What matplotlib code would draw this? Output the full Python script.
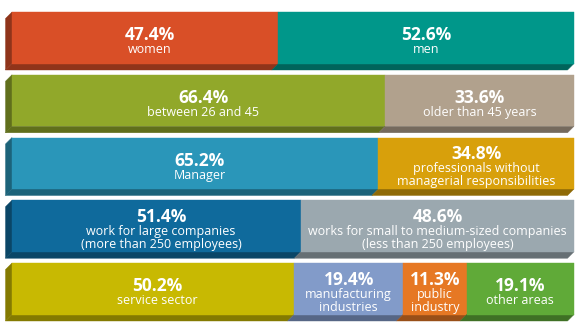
import matplotlib.pyplot as plt
from matplotlib.patches import Polygon
from matplotlib.colors import to_rgb

# shares per row (percent) and their labels
gender_pct = [47.4, 52.6]
gender_lab = ['women', 'men']
age_pct = [66.4, 33.6]
age_lab = ['between 26 and 45', 'older than 45 years']
role_pct = [65.2, 34.8]
role_lab = ['Manager', 'professionals without\nmanagerial responsibilities']
size_pct = [51.4, 48.6]
size_lab = ['work for large companies\n(more than 250 employees)',
            'works for small to medium-sized companies\n(less than 250 employees)']
sector_pct = [50.2, 19.4, 11.3, 19.1]
sector_lab = ['service sector', 'manufacturing\nindustries', 'public\nindustry', 'other areas']

gender_col = ['#D94F27', '#00978A']
age_col = ['#91A82A', '#B1A18D']
role_col = ['#2A96B9', '#D8A00B']
size_col = ['#0F6A9C', '#9BA8AF']
sector_col = ['#C8B902', '#829BC9', '#E67824', '#60AA38']

rows = [(gender_pct, gender_lab, gender_col),
        (age_pct, age_lab, age_col),
        (role_pct, role_lab, role_col),
        (size_pct, size_lab, size_col),
        (sector_pct, sector_lab, sector_col)]

W, H = 585, 331
fig = plt.figure(figsize=(W/100, H/100), dpi=100)
ax = fig.add_axes([0, 0, 1, 1])
px = (574 - 12) / 100.0        # pixels per percent
ax.set_xlim(-12/px, 100 + (W-574)/px)
ax.set_ylim(H, 0)
ax.axis('off')

top0, pitch = 12, 62.75
face_h, depth = 51.5, 6.5
dx = depth/px

def dark(c, k=0.66):
    r, g, b = to_rgb(c)
    return (r*k, g*k, b*k)

for i, (pct, labs, cols) in enumerate(rows):
    top = top0 + i*pitch
    bot = top + face_h
    a = 0.0
    for j, (p, lab, c) in enumerate(zip(pct, labs, cols)):
        b = a + p
        if j == len(pct) - 1:
            b = 100.0
        d = dark(c)
        # bottom side of the 3d block
        ax.add_patch(Polygon([(a, bot), (b, bot), (b-dx, bot+depth), (a-dx, bot+depth)],
                             closed=True, fc=d, ec=d, lw=0.3))
        if j == 0:
            ax.add_patch(Polygon([(a, top), (a, bot), (a-dx, bot+depth), (a-dx, top+depth)],
                                 closed=True, fc=d, ec=d, lw=0.3))
        ax.add_patch(Polygon([(a, top), (b, top), (b, bot), (a, bot)],
                             closed=True, fc=c, ec=c, lw=0.3))
        # text
        xc = (a + b)/2
        if j == 0:
            xc += 4.5/px
        yc = (top + bot)/2
        lines = lab.split('\n')
        n = len(lines)
        yp = yc - 2.5 - 6.5*(n-1)
        ax.text(xc, yp, '%.1f%%' % p, color='white', fontsize=12.5, fontweight='bold',
                ha='center', va='center', family='Open Sans')
        for k, ln in enumerate(lines):
            ax.text(xc, yp + 14.5 + 13*k, ln, color='white', fontsize=9,
                    ha='center', va='center', family='Open Sans')
        a = b

fig.savefig('out.png', dpi=100, facecolor='white')
